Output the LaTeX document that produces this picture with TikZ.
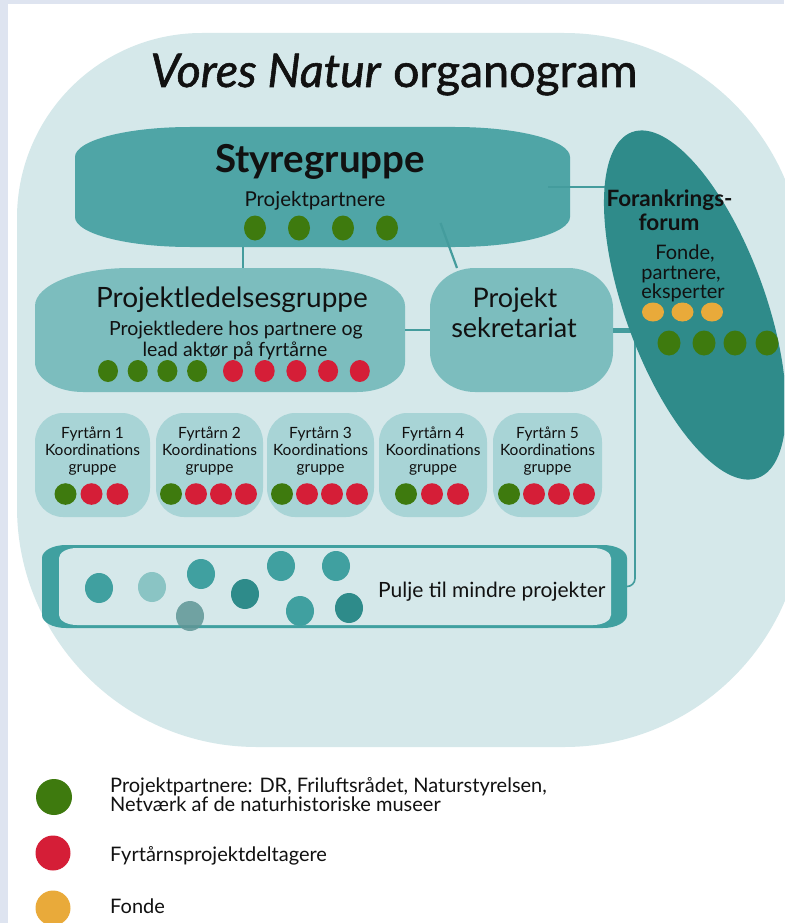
\documentclass[tikz,border=0pt]{standalone}
\usepackage{fontspec}
\setmainfont{Lato}
\newfontfamily\titlefont{Lato}[FakeBold=1.2]
\usetikzlibrary{calc,shapes.geometric}

\definecolor{framec}{RGB}{222,228,240}
\definecolor{bgshape}{RGB}{213,232,234}
\definecolor{stc}{RGB}{79,165,166}
\definecolor{ledc}{RGB}{124,189,190}
\definecolor{fyrc}{RGB}{168,212,214}
\definecolor{forumc}{RGB}{47,139,138}
\definecolor{poolc}{RGB}{64,160,160}
\definecolor{linkc}{RGB}{68,156,157}
\definecolor{gdot}{RGB}{62,122,14}
\definecolor{rdot}{RGB}{213,30,55}
\definecolor{odot}{RGB}{233,170,58}
\definecolor{ink}{RGB}{17,17,17}
\definecolor{plight}{RGB}{138,196,196}
\definecolor{pdark}{RGB}{46,139,138}
\definecolor{pgrey}{RGB}{95,150,150}

\pgfdeclarelayer{bg}
\pgfdeclarelayer{lines}
\pgfsetlayers{bg,lines,main}

% box with elliptic corners: style, x1, y1, x2, y2, top rx, top ry, bottom rx, bottom ry
\newcommand{\blob}[9]{\fill[#1] (#2,#3+#7) arc[start angle=180,end angle=270,x radius=#6,y radius=#7] -- (#4-#6,#3) arc[start angle=270,end angle=360,x radius=#6,y radius=#7] -- (#4,#5-#9) arc[start angle=0,end angle=90,x radius=#8,y radius=#9] -- (#2+#8,#5) arc[start angle=90,end angle=180,x radius=#8,y radius=#9] -- cycle;}

\tikzset{
  frm/.style={draw=none, inner sep=0pt, outer sep=0pt},
  lbl/.style={inner sep=0pt, anchor=base, text=ink},
  link/.style={draw=linkc, line width=2.2pt},
}

\begin{document}
\begin{tikzpicture}[x=1pt,y=-1pt]
    \useasboundingbox (0,0) rectangle (784,923);
    \clip (0,0) rectangle (784,923);

    % page and big background shape
    \begin{pgfonlayer}{bg}
    \fill[white] (0,0) rectangle (784,923);
    \fill[framec] (0,0) rectangle (784,4);
    \fill[framec] (0,0) rectangle (8,923);
    \fill[bgshape] (17,218) arc[start angle=180,end angle=270,radius=185] -- (564,33)
        arc[start angle=270,end angle=360,radius=240] -- (804,507)
        arc[start angle=0,end angle=90,radius=240] -- (257,747)
        arc[start angle=90,end angle=180,radius=240] -- cycle;
    \end{pgfonlayer}

    \node [lbl, font=\titlefont\fontsize{46.5}{50}\selectfont, name=title] at (394,87) {\textit{Vores Natur} organogram};

    % styregruppe
    \begin{pgfonlayer}{bg}
    \blob{stc}{75}{127}{570}{247}{115}{30}{115}{30}
    \end{pgfonlayer}
    \node [frm, minimum width=495, minimum height=120, name=styre] at (322.5,187) {};
    \node [lbl, font=\bfseries\fontsize{38.5}{42}\selectfont, name=styreT] at (320,172) {Styregruppe};
    \node [lbl, font=\fontsize{20.5}{23}\selectfont, name=styreS] at (315,206) {Projektpartnere};
    \foreach \k in {0,...,3}
      \fill[gdot] (255+44*\k,228) ellipse [x radius=11, y radius=12.5];

    % projektledelsesgruppe
    \begin{pgfonlayer}{bg}
    \blob{ledc}{35}{268}{405}{392}{95}{38}{48}{30}
    \end{pgfonlayer}
    \node [frm, minimum width=370, minimum height=124, name=ledelse] at (220,330) {};
    \node [lbl, font=\fontsize{28}{32}\selectfont, name=ledelseT] at (232,307) {Projektledelsesgruppe};
    \node [lbl, font=\fontsize{19.5}{22}\selectfont, name=ledelseA] at (236,335.5) {Projektledere hos partnere og};
    \node [lbl, font=\fontsize{19.5}{22}\selectfont, name=ledelseB] at (235,356) {lead aktør på fyrtårne};
    \foreach \k in {0,...,3}
      \fill[gdot] (108+29.7*\k,371) ellipse [x radius=10, y radius=11];
    \foreach \k in {0,...,4}
      \fill[rdot] (233+31.7*\k,371) ellipse [x radius=10, y radius=11];

    % projekt sekretariat
    \begin{pgfonlayer}{bg}
    \blob{ledc}{430}{268}{613}{392}{45}{40}{45}{40}
    \end{pgfonlayer}
    \node [frm, minimum width=183, minimum height=124, name=sekr] at (521.5,330) {};
    \node [lbl, font=\fontsize{27}{30}\selectfont, name=sekrA] at (515,307) {Projekt};
    \node [lbl, font=\fontsize{27}{30}\selectfont, name=sekrB] at (514,337) {sekretariat};

    % fyrtaarne
    \foreach \i/\xa/\xb/\nr/\sp in {1/35/150/2/26, 2/156/263/3/25, 3/267/374/3/25, 4/379/487/2/26, 5/493/602/3/25} {
      \pgfmathsetmacro\xc{(\xa+\xb)/2}
      \begin{pgfonlayer}{bg}
      \blob{fyrc}{\xa}{413}{\xb}{517}{28}{29}{28}{29}
      \end{pgfonlayer}
      \node [frm, minimum width=\xb-\xa, minimum height=104, name=fyr\i] at (\xc,465) {};
      \node [lbl, font=\fontsize{15.5}{17}\selectfont, name=fyr\i a] at (\xc,438) {Fyrtårn \i};
      \node [lbl, font=\fontsize{15.5}{17}\selectfont, name=fyr\i b] at (\xc,455) {Koordinations};
      \node [lbl, font=\fontsize{15.5}{17}\selectfont, name=fyr\i c] at (\xc,472) {gruppe};
      \pgfmathsetmacro\xo{\xc-1-\nr*\sp/2}
      \fill[gdot] (\xo,494) ellipse [x radius=11, y radius=10.8];
      \foreach \k in {1,...,\nr}
        \fill[rdot] (\xo+\k*\sp,494) ellipse [x radius=11, y radius=10.8];
    }

    % pulje
    \begin{pgfonlayer}{bg}
    \blob{poolc}{42}{545}{627}{628}{24}{13}{24}{13}
    \blob{bgshape}{59}{548}{611}{625}{18}{10}{18}{10}
    \end{pgfonlayer}
    \node [frm, minimum width=585, minimum height=83, name=pool] at (334.5,586.5) {};
    \node [lbl, anchor=base west, font=\fontsize{21}{24}\selectfont, name=poolT] at (378,597) {Pulje til mindre projekter};
    \foreach \px/\py/\pc in {99/588/poolc, 152/587/plight, 201/574/poolc, 245/594/pdark, 281/566/poolc, 336/566/poolc, 300/611/poolc, 349/608/pdark}
      \fill[\pc] (\px,\py) ellipse [x radius=14, y radius=15];
    \fill[pgrey, opacity=0.85] (190,616) ellipse [x radius=14, y radius=15];

    % forankringsforum
    \node [ellipse, fill=forumc, minimum width=140, minimum height=368, inner sep=0pt, rotate=20, name=forum] at (695,305) {};
    \node [lbl, font=\bfseries\fontsize{22.5}{25}\selectfont, name=forumA] at (669.5,206) {Forankrings-};
    \node [lbl, font=\bfseries\fontsize{22.5}{25}\selectfont, name=forumB] at (669,230) {forum};
    \node [lbl, font=\fontsize{20}{22}\selectfont, name=forumC] at (685,259) {Fonde,};
    \node [lbl, font=\fontsize{20}{22}\selectfont, name=forumD] at (681,279) {partnere,};
    \node [lbl, font=\fontsize{20}{22}\selectfont, name=forumE] at (683,298) {eksperter};
    \foreach \ox in {653,682.5,712}
      \fill[odot] (\ox,312) ellipse [x radius=11, y radius=9.5];
    \foreach \gx in {669,704,735,767}
      \fill[gdot] (\gx,343) ellipse [x radius=11.5, y radius=12.5];

    % connectors
    \begin{pgfonlayer}{lines}
    \coordinate (lnk) at ($(ledelse.north)+(23,0)$);
    \draw[link] (lnk |- styre.south) -- (lnk);
    \draw[link] ($(styre.south)+(118,-24)$) -- ($(sekr.north west)+(27,0)$);
    \draw[link] ($(styre.east)+(-22,0)$) -- (forum.center |- styre.east);
    \draw[link] (ledelse.east) -- (sekr.west);
    \coordinate (junc) at ($(sekr.east)+(22,0)$);
    \draw[link, line width=5pt] (sekr.east) -- (forum.center |- sekr.east);
    \draw[link, line width=1.6pt, rounded corners=8] (junc) |- (pool.east);
    \end{pgfonlayer}

    % legend
    \fill[gdot] (54,797) circle [radius=18];
    \fill[rdot] (53,853) circle [radius=17.5];
    \fill[odot] (53,908) circle [radius=17.5];
    \node [lbl, anchor=base west, font=\fontsize{20}{22}\selectfont, name=legA] at (110,792) {Projektpartnere: DR, Friluftsrådet, Naturstyrelsen,};
    \node [lbl, anchor=base west, font=\fontsize{20}{22}\selectfont, name=legB] at (110,811) {Netværk af de naturhistoriske museer};
    \node [lbl, anchor=base west, font=\fontsize{20}{22}\selectfont, name=legC] at (110,861) {Fyrtårnsprojektdeltagere};
    \node [lbl, anchor=base west, font=\fontsize{20}{22}\selectfont, name=legD] at (110,913) {Fonde};
  \end{tikzpicture}
\end{document}
